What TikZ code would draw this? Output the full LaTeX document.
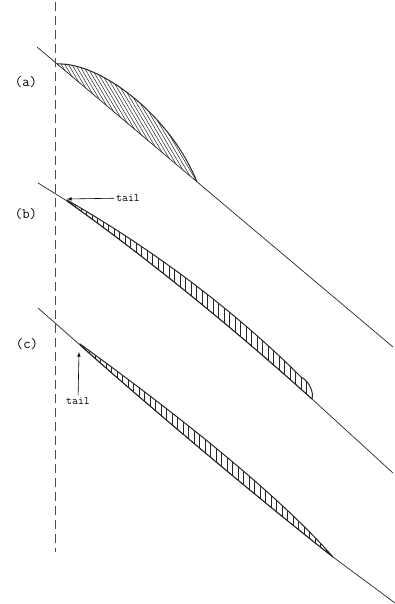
\documentclass[tikz,border=0pt]{standalone}
\begin{document}
\begin{tikzpicture}[x=1pt,y=-1pt,
        lbl/.style={font=\ttfamily\Large},
        tl/.style={font=\ttfamily\fontsize{11.5}{12}\selectfont,inner sep=2pt},
        base/.style={line width=0.7pt,black!85},
        edge/.style={line width=1pt,black!85},
        hatch/.style={line width=0.5pt,black!85},
        rung/.style={line width=0.75pt,black!85}]
        \useasboundingbox (0,0) rectangle (395,604);
        %asse tratteggiato
        \draw[line width=0.6pt,black!70,dash pattern=on 9pt off 5pt] (55,2) -- (55,552);
        %profilo (a)
        \draw[base] (37,47) -- (393,347);
        \begin{scope}
        \clip (57,64) .. controls (100,62) and (170,115) .. (197,182) -- cycle;
        \foreach \i in {-30,-26.5,...,190} \draw[hatch] (\i,40) -- ++(100,170);
        \end{scope}
        \draw[edge] (57,64) .. controls (100,62) and (170,115) .. (197,182);
        %profilo (b)
        \draw[base] (38,183) -- (67,201) .. controls (147,258) and (232,327) .. (312,399) -- (393,473);
        \begin{scope}
        \clip (67,200) .. controls (147,246) and (230,306) .. (301,377) .. controls (309,381) and (314,392) .. (312,399) .. controls (232,327) and (147,258) .. (67,201) -- cycle;
        \foreach \i in {70,75.5,...,315} \draw[rung] (\i,190) -- (\i,410);
        \end{scope}
        \draw[edge] (67,200) .. controls (147,246) and (230,306) .. (301,377) .. controls (309,381) and (314,392) .. (312,399) .. controls (232,327) and (147,258) .. (67,201) -- cycle;
        %profilo (c)
        \draw[base] (38,308) -- (80,345) .. controls (145,403) and (260,500) .. (333,557) -- (395,603);
        \begin{scope}
        \clip (80,344) .. controls (145,391) and (268,483) .. (333,557) .. controls (260,500) and (145,403) .. (80,345) -- cycle;
        \foreach \i in {84,89.5,...,335} \draw[rung] (\i,330) -- (\i,570);
        \end{scope}
        \draw[edge] (80,344) .. controls (145,391) and (268,483) .. (333,557) .. controls (260,500) and (145,403) .. (80,345) -- cycle;
        %etichette
        \node[lbl] (la) at (26,82) {(a)};
        \node[lbl] (lb) at (26,214) {(b)};
        \node[lbl] (lc) at (27,344) {(c)};
        %coda
        \node[tl,anchor=west] (tailb) at (114,198) {tail};
        \coordinate (tipb) at (67,199);
        \draw[-latex,line width=0.6pt] (tailb) -- (tipb);
        \node[tl] (tailc) at (78,401) {tail};
        \coordinate (tipc) at (79,352);
        \draw[-latex,line width=0.6pt] (tailc) -- (tipc);
\end{tikzpicture}
\end{document}
